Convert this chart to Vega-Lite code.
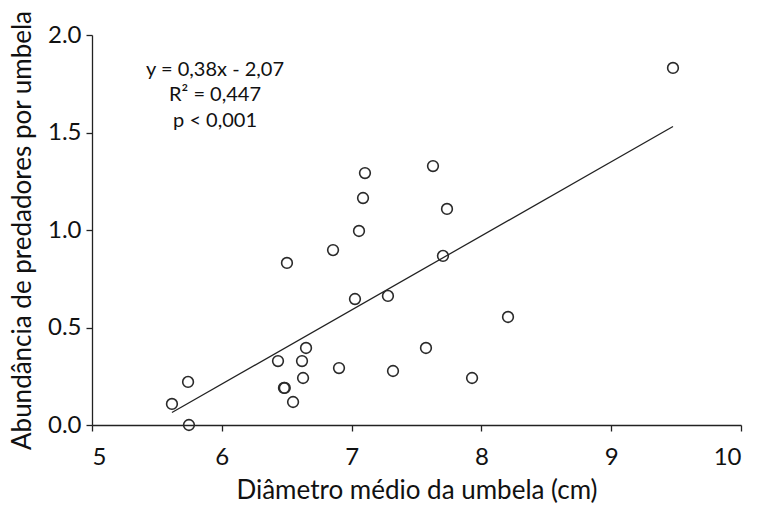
{
  "$schema": "https://vega.github.io/schema/vega-lite/v6.json",
  "autosize": "none",
  "padding": {"left": 92, "top": 35, "right": 20, "bottom": 81},
  "width": 649,
  "height": 390,
  "config": {
    "view": {"stroke": null},
    "font": "Lato",
    "axis": {"grid": false, "domainColor": "#222", "tickColor": "#222", "labelColor": "#111", "titleColor": "#111", "labelFont": "Lato", "titleFont": "Lato", "labelFontSize": 24, "titleFontSize": 26, "titleFontWeight": "normal", "tickSize": 6, "domainWidth": 1.3, "tickWidth": 1.3}
  },
  "datasets": {
    "pts": [
      {"diametro": 5.616, "abundancia": 0.108},
      {"diametro": 5.740, "abundancia": 0.221},
      {"diametro": 5.747, "abundancia": 0.0},
      {"diametro": 6.433, "abundancia": 0.328},
      {"diametro": 6.479, "abundancia": 0.190},
      {"diametro": 6.485, "abundancia": 0.190},
      {"diametro": 6.502, "abundancia": 0.831},
      {"diametro": 6.549, "abundancia": 0.118},
      {"diametro": 6.618, "abundancia": 0.328},
      {"diametro": 6.626, "abundancia": 0.241},
      {"diametro": 6.649, "abundancia": 0.395},
      {"diametro": 6.857, "abundancia": 0.897},
      {"diametro": 6.903, "abundancia": 0.292},
      {"diametro": 7.026, "abundancia": 0.646},
      {"diametro": 7.057, "abundancia": 0.995},
      {"diametro": 7.088, "abundancia": 1.164},
      {"diametro": 7.103, "abundancia": 1.292},
      {"diametro": 7.280, "abundancia": 0.662},
      {"diametro": 7.319, "abundancia": 0.277},
      {"diametro": 7.573, "abundancia": 0.395},
      {"diametro": 7.627, "abundancia": 1.328},
      {"diametro": 7.704, "abundancia": 0.867},
      {"diametro": 7.735, "abundancia": 1.108},
      {"diametro": 7.928, "abundancia": 0.241},
      {"diametro": 8.205, "abundancia": 0.554},
      {"diametro": 9.476, "abundancia": 1.831}
    ],
    "fit": [
      {"diametro": 5.616, "abundancia": 0.064},
      {"diametro": 9.476, "abundancia": 1.531}
    ],
    "notes": [
      {"diametro": 5.948, "abundancia": 1.82, "label": "y = 0,38x - 2,07"},
      {"diametro": 5.948, "abundancia": 1.69, "label": "R² = 0,447"},
      {"diametro": 5.948, "abundancia": 1.56, "label": "p < 0,001"}
    ]
  },
  "layer": [
    {
      "data": {"name": "fit"},
      "mark": {"type": "line", "color": "#222", "strokeWidth": 1.3},
      "encoding": {
        "x": {"field": "diametro", "type": "quantitative", "scale": {"domain": [5, 10]}, "axis": {"values": [5, 6, 7, 8, 9, 10], "format": "d", "title": "Diâmetro médio da umbela (cm)", "titlePadding": 8, "labelPadding": 14}},
        "y": {"field": "abundancia", "type": "quantitative", "scale": {"domain": [0, 2]}, "axis": {"values": [0, 0.5, 1, 1.5, 2], "format": ".1f", "title": "Abundância de predadores por umbela", "titlePadding": 12, "labelPadding": 5}}
      }
    },
    {
      "data": {"name": "pts"},
      "mark": {"type": "point", "shape": "circle", "filled": false, "size": 115, "stroke": "#2a2a2a", "strokeWidth": 1.6, "opacity": 1},
      "encoding": {
        "x": {"field": "diametro", "type": "quantitative"},
        "y": {"field": "abundancia", "type": "quantitative"}
      }
    },
    {
      "data": {"name": "notes"},
      "mark": {"type": "text", "fontSize": 20, "font": "Lato", "color": "#111", "align": "center", "baseline": "middle"},
      "encoding": {
        "x": {"field": "diametro", "type": "quantitative"},
        "y": {"field": "abundancia", "type": "quantitative"},
        "text": {"field": "label"}
      }
    }
  ]
}
